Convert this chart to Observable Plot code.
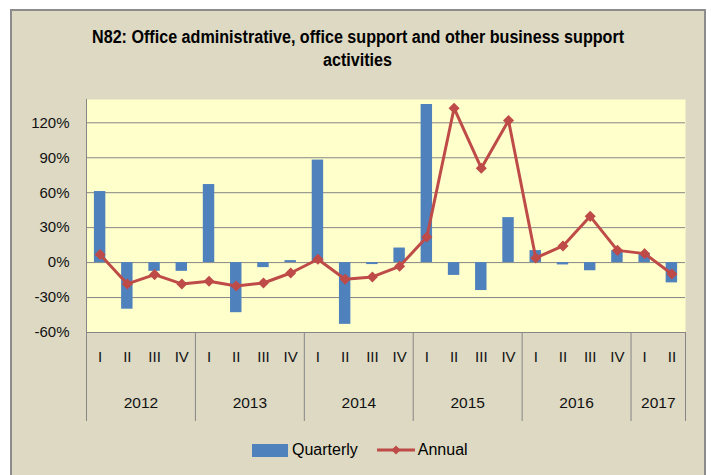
<!DOCTYPE html>
<html><head><meta charset="utf-8">
<script src="https://cdn.jsdelivr.net/npm/d3@7"></script>
<script src="https://cdn.jsdelivr.net/npm/@observablehq/plot@0.6"></script>
<style>
body{margin:0;background:#fff;width:711px;height:475px;overflow:hidden;position:relative;font-family:"Liberation Sans",Arial,sans-serif;}
#box{position:absolute;left:10px;top:9px;width:696px;height:490px;background:#DDD9C3;border:2px solid #8c8c8c;box-sizing:border-box;}
#title{position:absolute;left:11px;width:694px;top:26px;text-align:center;font-weight:bold;font-family:"Liberation Sans",Arial,sans-serif;font-size:18px;line-height:22.5px;color:#000;}
#title span{display:inline-block;white-space:nowrap;transform-origin:50% 50%;}
#chart{position:absolute;left:0;top:0;}
#legend{position:absolute;left:252px;top:440px;height:20px;display:flex;align-items:center;font-size:16px;color:#000;font-family:"Liberation Sans",Arial,sans-serif;}
#legend .sw{display:inline-block;width:36px;height:13px;background:#4F81BD;margin-right:4px;}
#legend svg{margin-left:19px;margin-right:3px;}
</style></head>
<body>
<div id="box"></div>
<div id="title"></div>
<div id="chart"></div>
<div id="legend"></div>
<script>
const titleLines = ["N82: Office administrative, office support and other business support", "activities"];
const yearLabels = ["2012","2013","2014","2015","2016","2017"];
const quarterLabels = ["I","II","III","IV","I","II","III","IV","I","II","III","IV","I","II","III","IV","I","II","III","IV","I","II"];
const quarterly = [61, -40, -7.5, -7.5, 67, -43, -4.3, 1.7, 88, -53, -1.7, 12.5, 135.7, -11, -24, 38.6, 10.3, -2, -7, 10.3, 8, -17.4];
const annual = [6.9, -18.3, -10.3, -18.3, -16, -20, -17.5, -8.9, 2.9, -14.3, -12.3, -3.2, 22, 132.5, 81, 122, 4, 14.3, 39.7, 10.5, 7.7, -9.8];
const yTicks = [-60, -30, 0, 30, 60, 90, 120];
const seriesNames = ["Quarterly", "Annual"];
const barColor = "#4F81BD", lineColor = "#BE4B48", gridColor = "#868686";

// title: keep height, compress width to the reference's line length
const tEl = document.getElementById("title");
tEl.innerHTML = titleLines.map(t => `<span>${t}</span>`).join("<br>");
{
  const spans = tEl.querySelectorAll("span");
  const k = 532 / spans[0].getBoundingClientRect().width;
  spans.forEach(s => s.style.transform = `scaleX(${k.toFixed(4)})`);
}

// build data
let yi = -1;
const data = quarterLabels.map((q, i) => {
  if (q === "I") yi++;
  return {i, q, quarterly: quarterly[i], annual: annual[i], year: yearLabels[yi]};
});
const n = data.length;
const yearData = yearLabels.map(y => {
  const idx = data.filter(d => d.year === y).map(d => d.i);
  return {year: y, c: d3.mean(idx), start: d3.min(idx) - 0.5, end: d3.max(idx) + 0.5};
});
const seps = Array.from(new Set(yearData.flatMap(d => [d.start, d.end]))).filter(s => s > -0.5);

const W = 711, H = 475, mL = 86, mR = 26, mT = 99, mB = 143;
const frameH = H - mT - mB;
const diamond = {draw(ctx, size) { const r = Math.sqrt(size) * 0.63; ctx.moveTo(0, -r); ctx.lineTo(r, 0); ctx.lineTo(0, r); ctx.lineTo(-r, 0); ctx.closePath(); }};

const chart = Plot.plot({
  width: W, height: H, marginLeft: mL, marginRight: mR, marginTop: mT, marginBottom: mB,
  style: {background: "transparent", fontFamily: '"Liberation Sans", Arial, sans-serif', color: "#111"},
  x: {domain: [-0.5, n - 0.5], axis: null},
  y: {domain: [-60, 140], axis: null},
  marks: [
    Plot.frame({fill: "#FFFFCC", stroke: null}),
    Plot.gridY(yTicks, {stroke: gridColor, strokeOpacity: 1}),
    Plot.rectY(data, {x1: d => d.i - 0.21, x2: d => d.i + 0.21, y: "quarterly", fill: barColor}),
    Plot.line(data, {x: "i", y: "annual", stroke: lineColor, strokeWidth: 3}),
    Plot.dot(data, {x: "i", y: "annual", symbol: diamond, r: 4, fill: lineColor, stroke: lineColor}),
    Plot.axisY(yTicks, {tickFormat: d => d + "%", tickSize: 0, tickPadding: 17, fontSize: 15, label: null}),
    Plot.ruleX([-0.5], {stroke: gridColor, insetBottom: -89}),
    Plot.ruleX(seps, {stroke: gridColor, insetTop: frameH, insetBottom: -89}),
    Plot.ruleY([-60], {stroke: gridColor}),
    Plot.text(data, {x: "i", text: "q", frameAnchor: "bottom", dy: 29, fontSize: 15}),
    Plot.text(yearData, {x: "c", text: "year", frameAnchor: "bottom", dy: 75, fontSize: 15.5})
  ]
});
document.getElementById("chart").appendChild(chart);

// legend
const lg = document.getElementById("legend");
lg.innerHTML = `<span class="sw"></span><span>${seriesNames[0]}</span>` +
  `<svg width="38" height="14"><line x1="0" y1="7" x2="38" y2="7" stroke="${lineColor}" stroke-width="3"/>` +
  `<path d="M19,2.5L23.5,7L19,11.5L14.5,7Z" fill="${lineColor}"/></svg><span>${seriesNames[1]}</span>`;
</script>
</body></html>
